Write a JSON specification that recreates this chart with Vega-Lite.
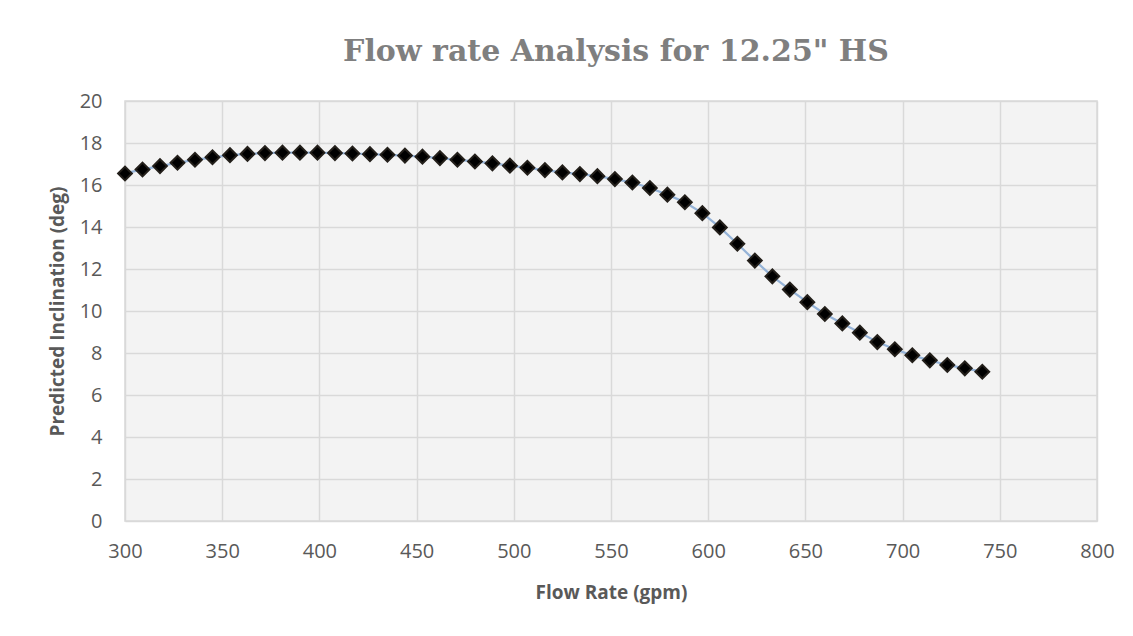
{
  "$schema": "https://vega.github.io/schema/vega-lite/v6.json",
  "autosize": {"type": "none"},
  "padding": {"left": 125, "top": 101, "right": 36, "bottom": 115},
  "width": 972,
  "height": 420,
  "background": "white",
  "title": {
    "text": "Flow rate Analysis for 12.25\" HS",
    "font": "DejaVu Serif",
    "fontSize": 30,
    "fontWeight": "bold",
    "color": "#7f7f7f",
    "anchor": "middle",
    "baseline": "alphabetic",
    "offset": 0,
    "dx": 5
  },
  "config": {
    "view": {"stroke": "#d9d9d9", "strokeWidth": 1.5, "fill": "#f3f3f3"},
    "axis": {
      "labelFont": "Open Sans",
      "labelFontSize": 20,
      "labelColor": "#595959",
      "titleFont": "Open Sans",
      "titleFontSize": 19,
      "titleFontWeight": "bold",
      "titleColor": "#595959",
      "gridColor": "#d9d9d9",
      "gridWidth": 1.5,
      "domain": false,
      "ticks": false,
      "labelFlush": false
    }
  },
  "data": {
    "values": [
      {"flow": 300, "incl": 16.55},
      {"flow": 309, "incl": 16.74},
      {"flow": 318, "incl": 16.90},
      {"flow": 327, "incl": 17.06},
      {"flow": 336, "incl": 17.20},
      {"flow": 345, "incl": 17.32},
      {"flow": 354, "incl": 17.42},
      {"flow": 363, "incl": 17.48},
      {"flow": 372, "incl": 17.52},
      {"flow": 381, "incl": 17.54},
      {"flow": 390, "incl": 17.54},
      {"flow": 399, "incl": 17.54},
      {"flow": 408, "incl": 17.52},
      {"flow": 417, "incl": 17.50},
      {"flow": 426, "incl": 17.47},
      {"flow": 435, "incl": 17.44},
      {"flow": 444, "incl": 17.40},
      {"flow": 453, "incl": 17.35},
      {"flow": 462, "incl": 17.28},
      {"flow": 471, "incl": 17.20},
      {"flow": 480, "incl": 17.12},
      {"flow": 489, "incl": 17.03},
      {"flow": 498, "incl": 16.92},
      {"flow": 507, "incl": 16.82},
      {"flow": 516, "incl": 16.71},
      {"flow": 525, "incl": 16.60},
      {"flow": 534, "incl": 16.52},
      {"flow": 543, "incl": 16.42},
      {"flow": 552, "incl": 16.28},
      {"flow": 561, "incl": 16.12},
      {"flow": 570, "incl": 15.86},
      {"flow": 579, "incl": 15.54},
      {"flow": 588, "incl": 15.18},
      {"flow": 597, "incl": 14.66},
      {"flow": 606, "incl": 13.98},
      {"flow": 615, "incl": 13.20},
      {"flow": 624, "incl": 12.40},
      {"flow": 633, "incl": 11.65},
      {"flow": 642, "incl": 11.02},
      {"flow": 651, "incl": 10.42},
      {"flow": 660, "incl": 9.86},
      {"flow": 669, "incl": 9.41},
      {"flow": 678, "incl": 8.97},
      {"flow": 687, "incl": 8.52},
      {"flow": 696, "incl": 8.18},
      {"flow": 705, "incl": 7.89},
      {"flow": 714, "incl": 7.65},
      {"flow": 723, "incl": 7.43},
      {"flow": 732, "incl": 7.27},
      {"flow": 741, "incl": 7.11}
    ]
  },
  "encoding": {
    "x": {
      "field": "flow",
      "type": "quantitative",
      "title": "Flow Rate (gpm)",
      "scale": {"domain": [300, 800], "nice": false, "zero": false},
      "axis": {"values": [300, 350, 400, 450, 500, 550, 600, 650, 700, 750, 800], "labelPadding": 20, "titlePadding": 22}
    },
    "y": {
      "field": "incl",
      "type": "quantitative",
      "title": "Predicted Inclination (deg)",
      "scale": {"domain": [0, 20], "nice": false},
      "axis": {"values": [0, 2, 4, 6, 8, 10, 12, 14, 16, 18, 20], "labelPadding": 23, "titlePadding": 12}
    }
  },
  "layer": [
    {"mark": {"type": "line", "color": "#95b3d7", "strokeWidth": 2.25}},
    {"mark": {"type": "point", "shape": "diamond", "filled": true, "size": 190, "fill": "#000000", "stroke": "#231f1a", "strokeWidth": 2, "opacity": 1}}
  ]
}
